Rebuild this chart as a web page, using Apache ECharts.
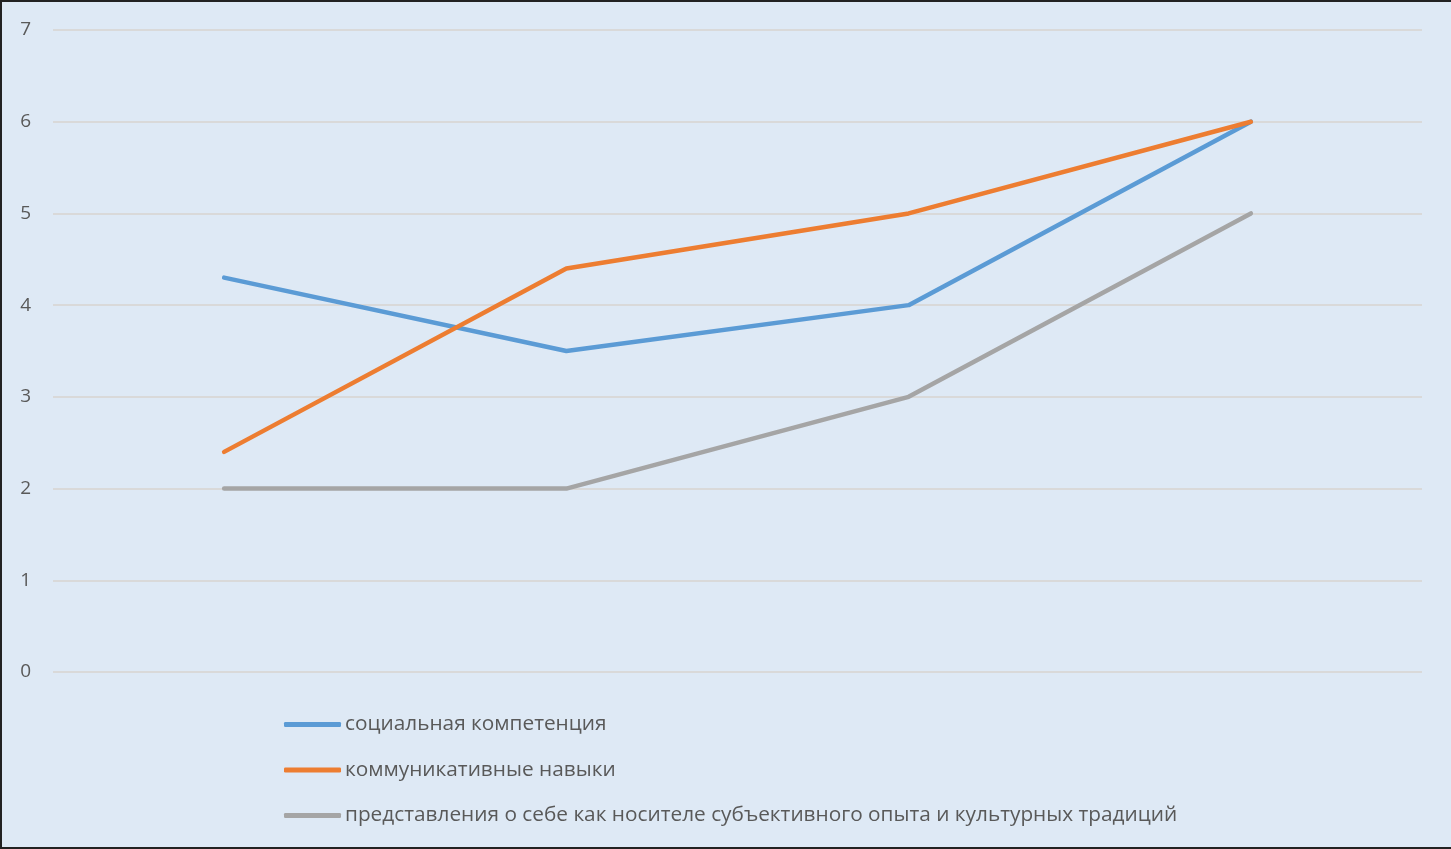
<!DOCTYPE html>
<html><head><meta charset="utf-8">
<script src="https://cdn.jsdelivr.net/npm/echarts@6/dist/echarts.min.js"></script>
<style>
html,body{margin:0;padding:0;background:#dee9f5;overflow:hidden;}
#wrap{position:absolute;left:0;top:0;width:1449px;height:845px;border-left:2px solid #222;border-top:2px solid #222;border-bottom:2px solid #222;background:#dee9f5;}
#c{width:1449px;height:845px;}
</style></head>
<body><div id="wrap"><div id="c"></div></div>
<script>
const categories = ['1', '2', '3', '4'];
const seriesNames = ['социальная компетенция', 'коммуникативные навыки', 'представления о себе как носителе субъективного опыта и культурных традиций'];
const socialValues = [4.3, 3.5, 4, 6];
const commValues = [2.4, 4.4, 5, 6];
const selfValues = [2, 2, 3, 5];
const colors = ['#5b9bd5', '#ed7d31', '#a5a5a5'];

const chart = echarts.init(document.getElementById('c'));
const mk = (name, data, color) => ({
  name, type: 'line', data, showSymbol: false, symbol: 'none',
  lineStyle: { color, width: 4.5, cap: 'round', join: 'round' },
  itemStyle: { color }
});
chart.setOption({
  backgroundColor: '#dee9f5',
  animation: false,
  grid: { left: 51, right: 29, top: 28, bottom: 175 },
  xAxis: {
    type: 'category', data: categories, boundaryGap: true,
    axisLine: { show: false }, axisTick: { show: false }, axisLabel: { show: false }
  },
  yAxis: {
    type: 'value', min: 0, max: 7, interval: 1,
    axisLine: { show: false }, axisTick: { show: false },
    axisLabel: { color: '#595959', fontSize: 19, fontFamily: 'Open Sans, sans-serif', margin: 22 },
    splitLine: { lineStyle: { color: '#d9d9d9', width: 2 } }
  },
  legend: {
    orient: 'vertical', left: 277, top: 707,
    itemWidth: 57, itemHeight: 5, itemGap: 24.5, icon: 'roundRect',
    textStyle: { color: '#595959', fontSize: 20.8, fontFamily: 'Open Sans, sans-serif', padding: [0, 0, 0, -1] },
    data: seriesNames
  },
  series: [
    mk(seriesNames[0], socialValues, colors[0]),
    mk(seriesNames[1], commValues, colors[1]),
    mk(seriesNames[2], selfValues, colors[2])
  ]
});
</script></body></html>
